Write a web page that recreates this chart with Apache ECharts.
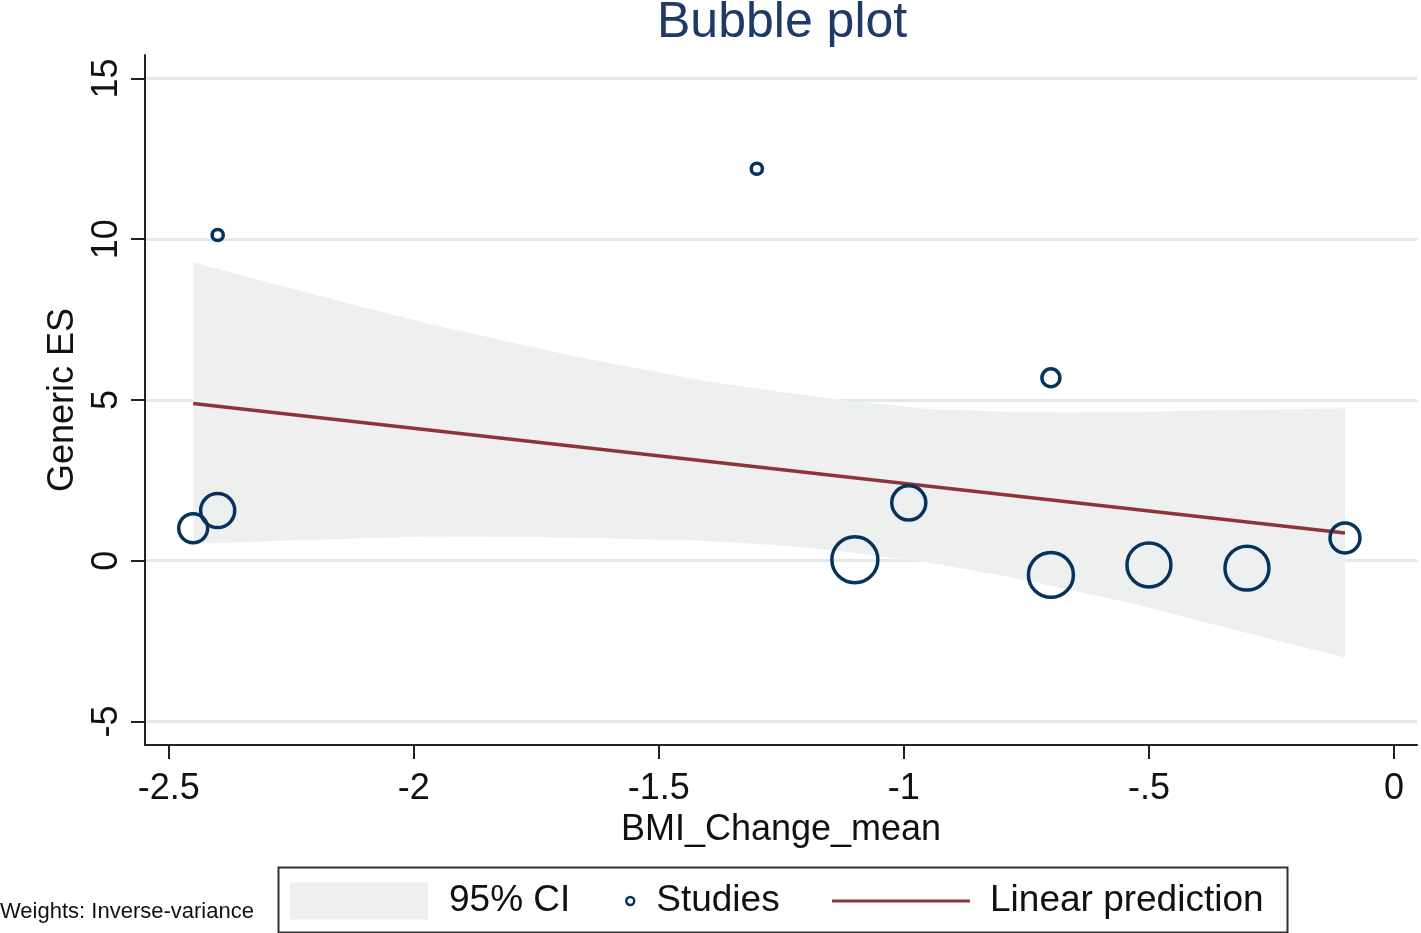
<!DOCTYPE html>
<html>
<head>
<meta charset="utf-8">
<script src="https://cdn.jsdelivr.net/npm/echarts@6/dist/echarts.min.js"></script>
<style>
html,body{margin:0;padding:0;background:#fff;}
#chart{width:1421px;height:933px;}
</style>
</head>
<body>
<div id="chart"></div>
<script>
// ---- data ----
const xTickValues = [-2.5, -2, -1.5, -1, -0.5, 0];
const xTickLabels = ['-2.5', '-2', '-1.5', '-1', '-.5', '0'];
const yTickValues = [-5, 0, 5, 10, 15];
const yTickLabels = ['-5', '0', '5', '10', '15'];

const studyX = [-2.45, -2.40, -2.40, -1.30, -1.10, -0.99, -0.70, -0.70, -0.50, -0.30, -0.10];
const studyES = [1.01, 1.56, 10.13, 12.19, 0.03, 1.80, 5.69, -0.44, -0.13, -0.23, 0.71];
const studyWeight = [6.7, 9.3, 1.0, 1.0, 17.0, 9.3, 2.6, 16.2, 15.5, 15.5, 7.2];

const predX = [-2.45, -0.10];
const predY = [4.89, 0.86];

const ciX    = [-2.45, -2.27, -1.97, -1.68, -1.41, -1.25, -1.13, -0.95, -0.80, -0.67, -0.52, -0.39, -0.25, -0.10];
const ciLow  = [0.52, 0.62, 0.75, 0.72, 0.62, 0.47, 0.30, -0.06, -0.46, -0.88, -1.38, -1.90, -2.44, -3.01];
const ciHigh = [9.28, 8.54, 7.37, 6.38, 5.60, 5.25, 5.01, 4.72, 4.64, 4.61, 4.63, 4.67, 4.70, 4.74];

// ---- styles ----
const FONT = "'Liberation Sans', Arial, Helvetica, sans-serif";
const NAVY = '#06325e';
const MAROON = '#8e3439';
const BAND = '#eef0ef';
const GRID = '#e2e9ec';
const AXIS = '#222';

const chart = echarts.init(document.getElementById('chart'), null, {renderer: 'canvas'});

const studyData = studyX.map((x, i) => [x, studyES[i], studyWeight[i]]);
const predData = predX.map((x, i) => [x, predY[i]]);
const ciData = ciX.map((x, i) => [x, ciLow[i], ciHigh[i]]);

function labelFor(values, labels) {
  return v => {
    const i = values.findIndex(t => Math.abs(t - v) < 1e-9);
    return i >= 0 ? labels[i] : '';
  };
}

const option = {
  animation: false,
  backgroundColor: '#fff',
  title: [
    {text: 'Bubble plot', left: 652, top: -7, padding: 5,
     textStyle: {fontFamily: FONT, fontSize: 50, fontWeight: 'normal', color: '#1f3a68'}},
    {text: 'Weights: Inverse-variance', left: 0, top: 901, padding: 0,
     textStyle: {fontFamily: FONT, fontSize: 22, fontWeight: 'normal', color: '#111'}}
  ],
  grid: {left: 145, right: 4, top: 55, bottom: 188},
  xAxis: {
    type: 'value', min: -2.5483, max: 0.0469,
    name: 'BMI_Change_mean', nameLocation: 'middle', nameGap: 46,
    nameTextStyle: {fontFamily: FONT, fontSize: 36, color: '#111'},
    axisLine: {show: true, onZero: false, lineStyle: {color: AXIS, width: 2}},
    axisTick: {show: true, length: 14, lineStyle: {color: AXIS, width: 2}, customValues: xTickValues},
    axisLabel: {margin: 26, fontFamily: FONT, fontSize: 36, color: '#111',
                customValues: xTickValues, formatter: labelFor(xTickValues, xTickLabels)},
    splitLine: {show: false}
  },
  yAxis: {
    type: 'value', min: -5.73, max: 15.727,
    name: 'Generic ES', nameLocation: 'middle', nameGap: 64,
    nameTextStyle: {fontFamily: FONT, fontSize: 36, color: '#111'},
    axisLine: {show: true, onZero: false, lineStyle: {color: AXIS, width: 2}},
    axisTick: {show: true, length: 14, lineStyle: {color: AXIS, width: 2}, customValues: yTickValues},
    axisLabel: {margin: 20, rotate: 90, fontFamily: FONT, fontSize: 36, color: '#111',
                customValues: yTickValues, formatter: labelFor(yTickValues, yTickLabels)},
    splitLine: {show: true, lineStyle: {color: GRID, width: 3}}
  },
  legend: [
    {data: [{name: '95% CI', icon: 'rect', itemStyle: {color: BAND}}],
     left: 290, top: 881, padding: 0, itemWidth: 138, itemHeight: 37,
     textStyle: {fontFamily: FONT, fontSize: 37, color: '#111', lineHeight: 40, padding: [0, 0, 0, 16]}},
    {data: [{name: 'Studies', icon: 'circle',
             itemStyle: {color: 'rgba(0,0,0,0)', borderColor: NAVY, borderWidth: 2.5}}],
     left: 625, top: 881, padding: 0, itemWidth: 8, itemHeight: 8,
     textStyle: {fontFamily: FONT, fontSize: 37, color: '#111', lineHeight: 40, padding: [0, 0, 0, 17]}},
    {data: [{name: 'Linear prediction', icon: 'rect', itemStyle: {color: MAROON, borderWidth: 0}}],
     left: 832, top: 881, padding: 0, itemWidth: 138, itemHeight: 3,
     textStyle: {fontFamily: FONT, fontSize: 37, color: '#111', lineHeight: 40, padding: [0, 0, 0, 15]}}
  ],
  graphic: [
    {type: 'rect', left: 276, top: 865, shape: {width: 1009, height: 65},
     style: {fill: 'none', stroke: '#333', lineWidth: 2}, silent: true}
  ],
  series: [
    {
      name: '95% CI', type: 'custom', z: 1,
      itemStyle: {color: BAND},
      encode: {x: 0, y: [1, 2]},
      data: ciData,
      renderItem: function (params, api) {
        if (params.dataIndex !== 0) return null;
        const pts = [];
        for (let i = 0; i < ciX.length; i++) pts.push(api.coord([ciX[i], ciHigh[i]]));
        for (let i = ciX.length - 1; i >= 0; i--) pts.push(api.coord([ciX[i], ciLow[i]]));
        return {type: 'polygon', shape: {points: pts}, style: {fill: BAND}};
      }
    },
    {
      name: 'Linear prediction', type: 'line', z: 3,
      data: predData, showSymbol: false, symbol: 'none',
      itemStyle: {color: MAROON},
      lineStyle: {color: MAROON, width: 3.5}
    },
    {
      name: 'Studies', type: 'scatter', z: 4,
      data: studyData,
      symbol: 'circle',
      symbolSize: v => 11.17 * Math.sqrt(v[2]),
      itemStyle: {color: 'rgba(0,0,0,0)', borderColor: NAVY, borderWidth: 3.5, opacity: 1}
    }
  ]
};
chart.setOption(option);
</script>
</body>
</html>
